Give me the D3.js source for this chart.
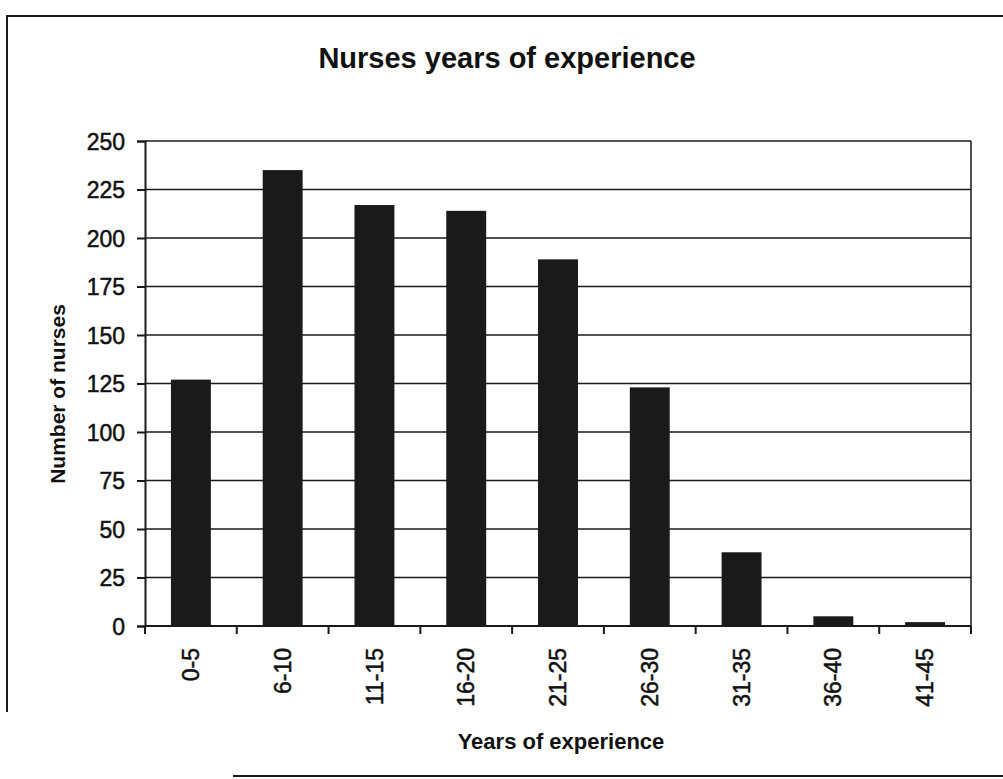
<!DOCTYPE html>
<html>
<head>
<meta charset="utf-8">
<script src="https://cdn.jsdelivr.net/npm/d3@7"></script>
<style>
  html, body { margin: 0; padding: 0; background: #fff; }
  svg { display: block; font-family: "Liberation Sans", Arial, sans-serif; }
</style>
</head>
<body>
<div id="chart"></div>
<script>
// data
const categories = ['0-5', '6-10', '11-15', '16-20', '21-25', '26-30', '31-35', '36-40', '41-45'];
const nurses = [127, 235, 217, 214, 189, 123, 38, 5, 2];
const yTicks = [0, 25, 50, 75, 100, 125, 150, 175, 200, 225, 250];

const width = 1003;
const height = 779;
const plot = { left: 145, right: 971, top: 141, bottom: 626 };
const ink = '#1a1a1a';

const svg = d3.select('#chart')
  .append('svg')
  .attr('width', width)
  .attr('height', height);

// outer frame (only partly visible in the scan)
svg.append('line')
  .attr('x1', 6).attr('y1', 16).attr('x2', width).attr('y2', 16)
  .attr('stroke', ink).attr('stroke-width', 2);
svg.append('line')
  .attr('x1', 7).attr('y1', 16).attr('x2', 7).attr('y2', 712)
  .attr('stroke', ink).attr('stroke-width', 2);
svg.append('line')
  .attr('x1', 233).attr('y1', 776).attr('x2', width).attr('y2', 776)
  .attr('stroke', ink).attr('stroke-width', 2);

const x = d3.scaleBand()
  .domain(categories)
  .range([plot.left, plot.right])
  .paddingInner(0.565)
  .paddingOuter(0.2825);

const xEdge = d3.scaleLinear()
  .domain([0, categories.length])
  .range([plot.left, plot.right]);

const y = d3.scaleLinear()
  .domain([0, 250])
  .range([plot.bottom, plot.top]);

// --- GRIDLINES ---
svg.append('g')
  .selectAll('line')
  .data(yTicks.filter(d => d > 0))
  .join('line')
  .attr('x1', plot.left)
  .attr('x2', plot.right)
  .attr('y1', d => y(d))
  .attr('y2', d => y(d))
  .attr('stroke', ink)
  .attr('stroke-width', 1.5);

// right border of plot area
svg.append('line')
  .attr('x1', plot.right).attr('x2', plot.right)
  .attr('y1', plot.top).attr('y2', plot.bottom)
  .attr('stroke', ink).attr('stroke-width', 1.5);

// --- BARS ---
svg.append('g')
  .selectAll('rect')
  .data(nurses)
  .join('rect')
  .attr('x', (d, i) => x(categories[i]))
  .attr('width', x.bandwidth())
  .attr('y', d => y(d))
  .attr('height', d => y(0) - y(d))
  .attr('fill', ink);

// --- Y AXIS ---
const yAxis = svg.append('g')
  .attr('transform', `translate(${plot.left},0)`)
  .call(d3.axisLeft(y).tickValues(yTicks).tickSize(8).tickPadding(12));
yAxis.select('.domain').attr('stroke', ink).attr('stroke-width', 2);
yAxis.selectAll('.tick line').attr('stroke', ink).attr('stroke-width', 2);
yAxis.selectAll('.tick text')
  .attr('fill', '#111')
  .attr('stroke', '#111')
  .attr('stroke-width', 0.5)
  .attr('font-size', 23)
  .attr('dy', '0.35em');

// --- X AXIS ---
const xAxis = svg.append('g')
  .attr('transform', `translate(0,${plot.bottom})`)
  .call(d3.axisBottom(x).tickSize(0).tickPadding(0));
xAxis.select('.domain').remove();
xAxis.append('line')
  .attr('x1', plot.left).attr('x2', plot.right)
  .attr('stroke', ink).attr('stroke-width', 2);
xAxis.selectAll('.tick text')
  .attr('fill', '#111')
  .attr('stroke', '#111')
  .attr('stroke-width', 0.5)
  .attr('font-size', 23)
  .attr('text-anchor', 'end')
  .attr('transform', 'translate(0,22) rotate(-90)')
  .attr('dy', '0.35em')
  .attr('y', 0)
  .attr('x', 0);

// tick marks on category boundaries
xAxis.append('g')
  .selectAll('line')
  .data(d3.range(categories.length + 1))
  .join('line')
  .attr('x1', d => xEdge(d))
  .attr('x2', d => xEdge(d))
  .attr('y1', 0)
  .attr('y2', 8)
  .attr('stroke', ink)
  .attr('stroke-width', 2);

// --- TITLES ---
svg.append('text')
  .attr('x', 507)
  .attr('y', 68)
  .attr('text-anchor', 'middle')
  .attr('font-size', 29)
  .attr('font-weight', 'bold')
  .attr('fill', '#111')
  .text('Nurses years of experience');

svg.append('text')
  .attr('x', 561)
  .attr('y', 749)
  .attr('text-anchor', 'middle')
  .attr('font-size', 22)
  .attr('font-weight', 'bold')
  .attr('fill', '#111')
  .text('Years of experience');

svg.append('text')
  .attr('transform', 'translate(65,394) rotate(-90)')
  .attr('text-anchor', 'middle')
  .attr('font-size', 21)
  .attr('font-weight', 'bold')
  .attr('fill', '#111')
  .text('Number of nurses');
</script>
</body>
</html>
